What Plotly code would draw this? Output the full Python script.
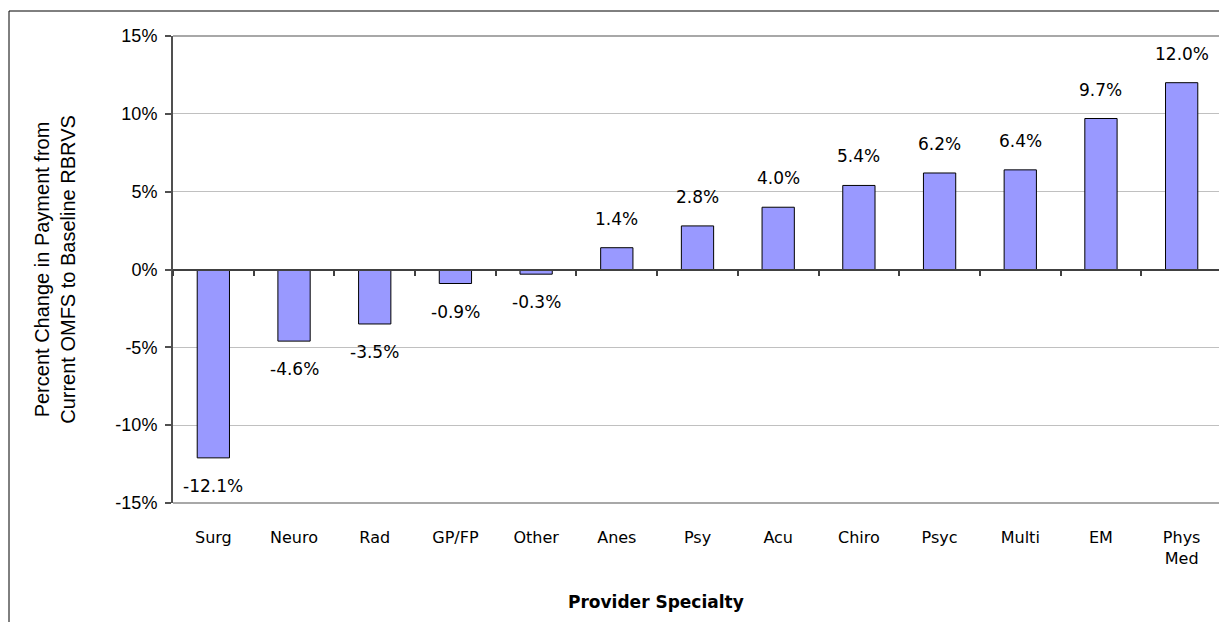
import plotly.graph_objects as go

categories = ["Surg", "Neuro", "Rad", "GP/FP", "Other", "Anes", "Psy", "Acu",
              "Chiro", "Psyc", "Multi", "EM", "Phys<br>Med"]
values = [-12.1, -4.6, -3.5, -0.9, -0.3, 1.4, 2.8, 4.0, 5.4, 6.2, 6.4, 9.7, 12.0]
y_ticks = [-15, -10, -5, 0, 5, 10, 15]
y_tick_labels = ["-15%", "-10%", "-5%", "0%", "5%", "10%", "15%"]

# page body has an 8px margin; figure is placed at (8, 8)
OFF = 8
W, H = 1227 - OFF, 622 - OFF
ML, MR, MT, MB = 173 - OFF, 5, 36 - OFF, 119
PW = W - ML - MR
PH = H - MT - MB

LABEL_FONT = dict(family="DejaVu Sans", size=17, color="black")

fig = go.Figure()
fig.add_trace(go.Bar(
    x=categories, y=values, width=0.4,
    marker=dict(color="#9999FF", line=dict(color="black", width=1)),
    hoverinfo="skip",
))
# invisible trace carrying the category axis drawn at zero
fig.add_trace(go.Scatter(
    x=categories, y=[0] * len(categories), mode="markers",
    marker=dict(opacity=0), xaxis="x2", hoverinfo="skip", showlegend=False,
))

for c, v in zip(categories, values):
    fig.add_annotation(
        x=c, y=v, text=f"{v:.1f}%", showarrow=False,
        yanchor="bottom" if v >= 0 else "top",
        yshift=17 if v >= 0 else -16,
        font=LABEL_FONT,
    )

fig.add_annotation(
    x=(656 - OFF - ML) / PW, y=(MT + PH - (602 - OFF)) / PH,
    xref="paper", yref="paper",
    text="<b>Provider Specialty</b>", showarrow=False,
    font=dict(family="DejaVu Sans", size=17, color="black"),
    xanchor="center", yanchor="middle",
)

# outer frame
fig.add_shape(type="rect", xref="paper", yref="paper",
              x0=-(ML - (9 - OFF)) / PW, x1=(1226 - OFF - ML) / PW,
              y0=-2, y1=1 + (MT - (11 - OFF)) / PH,
              line=dict(color="black", width=1), layer="below")
# plot area border (top, right, bottom)
fig.add_shape(type="path", xref="paper", yref="paper",
              path="M 0,1 L 1,1 L 1,0 L 0,0",
              line=dict(color="#8c8c8c", width=1.5), layer="above")

fig.update_layout(
    width=W, height=H,
    margin=dict(l=ML, r=MR, t=MT, b=MB),
    paper_bgcolor="white", plot_bgcolor="white",
    showlegend=False,
    bargap=0.6,
    xaxis=dict(
        type="category", categoryorder="array", categoryarray=categories,
        range=[-0.5, len(categories) - 0.5],
        showline=False, showgrid=False, zeroline=False, ticks="",
        tickfont=dict(family="DejaVu Sans", size=16, color="black"),
        ticklabelstandoff=23,
    ),
    xaxis2=dict(
        type="category", categoryorder="array", categoryarray=categories,
        range=[-0.5, len(categories) - 0.5],
        overlaying="x", anchor="free", position=0.5,
        showline=True, linecolor="#404040", linewidth=1.5,
        ticks="outside", tickson="boundaries", ticklen=6, tickcolor="#404040",
        tickwidth=1.5, showticklabels=False, showgrid=False, zeroline=False,
    ),
    yaxis=dict(
        range=[-15, 15], tickmode="array", tickvals=y_ticks, ticktext=y_tick_labels,
        showline=True, linecolor="#505050", linewidth=2,
        ticks="outside", ticklen=6, tickcolor="#505050", tickwidth=1.5,
        showgrid=True, gridcolor="#c0c0c0", gridwidth=1, zeroline=False,
        tickfont=dict(family="Liberation Sans", size=18, color="black"),
        ticklabelstandoff=4,
        title=dict(
            text="Percent Change in Payment from<br>Current OMFS to Baseline RBRVS",
            font=dict(family="Liberation Sans", size=20, color="black"),
            standoff=34,
        ),
    ),
)

fig.write_html("out.html")
